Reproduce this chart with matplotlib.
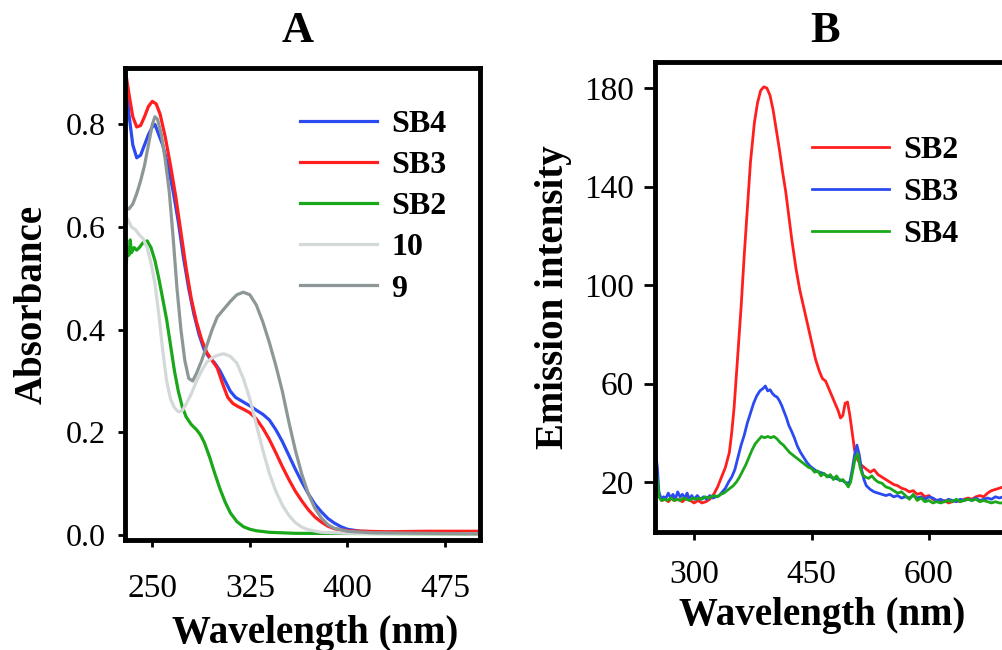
import numpy as np
import matplotlib
matplotlib.use('Agg')
from matplotlib import pyplot as plt

plt.rcParams['font.family'] = ['Liberation Serif', 'DejaVu Serif']

# panel A: absorbance spectra
wl_sb3 = [229, 232, 235, 238, 241, 244, 247, 250, 253, 256, 260, 264, 268, 272, 276, 280, 284, 288, 292,
          296, 300, 304, 308, 312, 316, 320, 325, 330, 335, 340, 345, 350, 355, 360, 365, 370, 375, 380,
          385, 390, 400, 430, 460, 502]
abs_sb3 = [0.91, 0.86, 0.815, 0.795, 0.798, 0.815, 0.835, 0.845, 0.84, 0.82, 0.775, 0.72, 0.66, 0.59, 0.52,
           0.46, 0.415, 0.38, 0.355, 0.34, 0.325, 0.295, 0.268, 0.256, 0.25, 0.245, 0.238, 0.226, 0.208,
           0.186, 0.16, 0.133, 0.108, 0.085, 0.066, 0.049, 0.035, 0.025, 0.017, 0.012, 0.008, 0.006, 0.007,
           0.007]

wl_sb4 = [229, 232, 235, 238, 241, 244, 247, 250, 252, 255, 258, 262, 266, 270, 274, 278, 282, 286, 290,
          294, 298, 302, 306, 310, 314, 318, 322, 326, 330, 335, 340, 345, 350, 355, 360, 365, 370, 375,
          380, 385, 390, 395, 400, 410, 430, 502]
abs_sb4 = [0.91, 0.82, 0.76, 0.735, 0.74, 0.76, 0.78, 0.795, 0.80, 0.78, 0.76, 0.72, 0.67, 0.61, 0.54,
           0.48, 0.43, 0.39, 0.36, 0.345, 0.335, 0.32, 0.30, 0.28, 0.268, 0.262, 0.256, 0.25, 0.243, 0.235,
           0.224, 0.205, 0.182, 0.155, 0.128, 0.103, 0.08, 0.06, 0.045, 0.032, 0.023, 0.016, 0.011, 0.007,
           0.005, 0.004]

wl_sb2 = [229, 230, 231, 232, 233, 234, 236, 238, 240, 243, 246, 249, 252, 255, 258, 261, 264, 267, 270,
          273, 276, 280, 284, 287, 290, 294, 298, 302, 306, 310, 315, 320, 325, 330, 340, 360, 502]
abs_sb2 = [0.55, 0.53, 0.56, 0.545, 0.575, 0.55, 0.56, 0.555, 0.56, 0.57, 0.573, 0.56, 0.535, 0.50, 0.46,
           0.42, 0.37, 0.32, 0.28, 0.25, 0.23, 0.215, 0.205, 0.195, 0.18, 0.152, 0.12, 0.09, 0.064, 0.043,
           0.026, 0.016, 0.011, 0.008, 0.005, 0.003, 0.002]

wl_10 = [228, 231, 234, 237, 240, 243, 246, 249, 252, 255, 258, 261, 264, 267, 270, 273, 276, 280, 284,
         288, 292, 296, 300, 305, 310, 315, 320, 325, 330, 335, 340, 345, 350, 355, 360, 365, 370, 380,
         400, 502]
abs_10 = [0.63, 0.615, 0.60, 0.595, 0.585, 0.577, 0.56, 0.53, 0.49, 0.43, 0.36, 0.30, 0.265, 0.248, 0.24,
          0.242, 0.255, 0.275, 0.30, 0.32, 0.337, 0.345, 0.35, 0.353, 0.348, 0.335, 0.305, 0.265, 0.215,
          0.165, 0.12, 0.085, 0.058, 0.038, 0.024, 0.015, 0.010, 0.005, 0.003, 0.002]

wl_9 = [229, 232, 235, 238, 241, 244, 247, 250, 252, 254, 257, 260, 263, 266, 269, 272, 275, 278, 281,
        284, 288, 292, 296, 300, 305, 310, 315, 320, 325, 330, 335, 340, 345, 350, 355, 360, 365, 370,
        375, 380, 385, 390, 400, 420, 502]
abs_9 = [0.64, 0.635, 0.645, 0.665, 0.69, 0.72, 0.76, 0.80, 0.815, 0.81, 0.78, 0.73, 0.67, 0.58, 0.48,
         0.40, 0.34, 0.305, 0.30, 0.315, 0.34, 0.37, 0.40, 0.425, 0.44, 0.455, 0.468, 0.473, 0.468, 0.448,
         0.415, 0.375, 0.33, 0.28, 0.22, 0.165, 0.118, 0.08, 0.052, 0.033, 0.02, 0.013, 0.007, 0.004, 0.002]

# panel B: emission spectra
wl_em_sb2 = [253, 256, 259, 263, 267, 271, 275, 280, 285, 290, 295, 300, 305, 310, 315, 320, 325, 330, 335,
             340, 345, 348, 351, 355, 360, 364, 368, 372, 377, 381, 385, 389, 393, 397, 401, 405, 409, 413,
             417, 421, 425, 430, 435, 440, 445, 450, 455, 460, 464, 468, 472, 476, 480, 484, 487, 490, 493,
             496, 499, 502, 505, 509, 513, 517, 521, 525, 530, 535, 540, 545, 550, 555, 560, 565, 570, 575,
             580, 585, 590, 595, 600, 605, 610, 615, 620, 625, 630, 635, 640, 645, 650, 655, 660, 665, 670,
             675, 680, 685, 690, 695, 700, 705]
em_sb2 = [18, 14, 12.5, 13, 12, 13.5, 12.5, 13, 12, 13.5, 12.5, 11.5, 12.5, 11.5, 12, 13, 15, 18, 22, 26,
          32, 40, 50, 68, 91, 112, 131, 150, 166, 174, 179, 180.5, 180, 177, 171, 163, 155, 146, 138, 128,
          118, 107, 98, 91, 84, 77, 70, 65, 62, 61, 58, 55, 52, 49, 46, 47, 52, 52.5, 47, 40, 33, 29, 27,
          26, 25, 24, 25, 23, 22, 21, 20, 19, 18.5, 17.5, 17, 16, 16.5, 15, 15.5, 14, 14.5, 13, 12.5, 12,
          12.5, 11.5, 12, 12.5, 12, 13, 13.5, 13, 14, 14.5, 14, 15.5, 16.5, 17, 17.5, 18, 19.5, 19]

wl_em_sb3 = [251, 253, 255, 258, 261, 264, 267, 270, 273, 276, 279, 282, 285, 288, 291, 294, 297, 300, 304,
             308, 312, 316, 320, 324, 328, 332, 336, 340, 344, 348, 352, 356, 360, 364, 368, 372, 376, 380,
             384, 388, 391, 394, 397, 400, 403, 406, 409, 412, 415, 418, 421, 424, 428, 432, 436, 440, 444,
             448, 452, 456, 460, 465, 470, 475, 480, 485, 490, 495, 499, 502, 505, 508, 511, 514, 517, 520,
             525, 530, 535, 540, 545, 550, 555, 560, 565, 570, 575, 580, 585, 590, 595, 600, 605, 610, 615,
             620, 625, 630, 635, 640, 645, 650, 655, 660, 665, 670, 675, 680, 685, 690, 695, 700, 705]
em_sb3 = [31, 26, 16, 13, 14, 13.5, 15.5, 13.5, 15, 13, 16, 14, 15, 13.5, 15.5, 13, 14.5, 13, 14.5, 13,
          14, 13, 14.5, 13.5, 14, 14.5, 16, 17.5, 20, 22, 25, 30, 35, 39, 44, 48, 52, 55, 57, 58, 59, 57,
          57.5, 56, 55, 54.5, 53, 51, 48.5, 46, 43, 41, 38, 34.5, 32, 30, 28, 26.5, 25.5, 24.5, 24, 23.5,
          22.5, 22, 21.5, 21, 20.5, 19.5, 20, 25, 31, 35, 31, 25, 21, 18.5, 17, 16, 15.5, 15, 14.5, 15, 14,
          14.5, 13.5, 14, 13.5, 14.5, 13.5, 14, 13, 14, 13.5, 12.5, 13, 12, 13, 12.5, 12, 13, 12.5, 13,
          12.5, 13.5, 12.5, 13, 13.5, 13, 14, 13.5, 14, 13.5, 14]

wl_em_sb4 = [251, 253, 255, 258, 262, 266, 270, 274, 278, 282, 286, 290, 294, 298, 302, 306, 310, 314, 318,
             322, 326, 330, 334, 338, 342, 346, 350, 354, 358, 362, 366, 370, 374, 378, 382, 386, 390, 394,
             398, 402, 406, 410, 414, 418, 422, 426, 430, 434, 438, 442, 446, 450, 454, 458, 462, 466, 470,
             474, 478, 482, 486, 490, 494, 497, 500, 503, 506, 509, 512, 515, 519, 523, 527, 531, 535, 540,
             545, 550, 555, 560, 565, 570, 575, 580, 585, 590, 595, 600, 605, 610, 615, 620, 625, 630, 635,
             640, 645, 650, 655, 660, 665, 670, 675, 680, 685, 690, 695, 700, 705]
em_sb4 = [25, 21, 14, 12.5, 13, 12.5, 13.5, 12.5, 13, 12.5, 13.5, 13, 12.5, 13.5, 13, 13.5, 13, 14, 13.5,
          14, 14.5, 14, 15, 15.5, 16.5, 17.5, 18.5, 20, 22, 24.5, 27, 30, 33, 35.5, 37, 38.5, 38, 38.5, 38,
          38.5, 37.5, 36, 35, 33.5, 32, 31, 30, 29, 28, 27, 26, 25.5, 24, 24.5, 22.5, 23.5, 22, 23, 21,
          22.5, 20.5, 21, 19.5, 18, 20, 25, 30, 31.5, 26, 23, 22, 21.5, 22.5, 21, 20, 19.5, 18, 17.5, 16.5,
          15.5, 16, 14.5, 13, 15, 12.5, 13.5, 12, 12.5, 11.5, 12, 11.5, 12, 12.5, 12, 13, 12, 12.5, 13,
          12.5, 13, 12, 12.5, 12, 11.5, 12, 11.5, 11.5, 11, 11]

c_red = '#ff1f1f'
c_blue = '#2b4bf0'
c_green = '#1aa81a'
c_light = '#d3d8d8'
c_dark = '#8e9797'

fig = plt.figure(figsize=(10.03, 6.5), dpi=100)
W, H = 1003.0, 650.0

axA = fig.add_axes([125 / W, 1 - 540 / H, 355 / W, 472 / H])
axA.plot(wl_sb4, abs_sb4, color=c_blue, lw=2.3, label='SB4')
axA.plot(wl_sb3, abs_sb3, color=c_red, lw=2.3, label='SB3')
axA.plot(wl_sb2, abs_sb2, color=c_green, lw=2.3, label='SB2')
axA.plot(wl_10, abs_10, color=c_light, lw=2.3, label='10')
axA.plot(wl_9, abs_9, color=c_dark, lw=2.3, label='9')
axA.set_xlim(229, 502)
axA.set_ylim(-0.01, 0.91)
axA.set_xticks([250, 325, 400, 475])
axA.set_yticks([0.0, 0.2, 0.4, 0.6, 0.8])
axA.set_yticklabels(['0.0', '0.2', '0.4', '0.6', '0.8'])
axA.set_xlabel('Wavelength (nm)', fontsize=28, fontweight='bold')
axA.xaxis.set_label_coords(0.535, -0.158)
axA.set_ylabel('Absorbance', fontsize=28, fontweight='bold', labelpad=11)
axA.legend(loc='upper left', bbox_to_anchor=(0.493, 0.912), frameon=False,
           prop={'weight': 'bold', 'size': 23}, handlelength=2.4, handletextpad=0.45,
           labelspacing=0.37, borderpad=0, borderaxespad=0)
axA.tick_params(axis='both', length=5, width=2, direction='out')
axA.tick_params(axis='y', labelsize=23, pad=9)
axA.tick_params(axis='x', labelsize=24, pad=19)

# right edge of panel B runs off the figure
axB = fig.add_axes([655 / W, 1 - 532 / H, 360 / W, 470 / H])
axB.plot(wl_em_sb2, em_sb2, color=c_red, lw=2.0, label='SB2')
axB.plot(wl_em_sb3, em_sb3, color=c_blue, lw=2.0, label='SB3')
axB.plot(wl_em_sb4, em_sb4, color=c_green, lw=2.0, label='SB4')
axB.set_xlim(250, 710)
axB.set_ylim(-0.3, 190.6)
axB.set_xticks([300, 450, 600])
axB.set_yticks([20, 60, 100, 140, 180])
axB.set_xlabel('Wavelength (nm)', fontsize=28, fontweight='bold')
axB.xaxis.set_label_coords(0.464, -0.139)
axB.set_ylabel('Emission intensity', fontsize=28, fontweight='bold', labelpad=9)
axB.legend(loc='upper left', bbox_to_anchor=(0.436, 0.843), frameon=False,
           prop={'weight': 'bold', 'size': 23}, handlelength=2.4, handletextpad=0.45,
           labelspacing=0.4, borderpad=0, borderaxespad=0)
axB.tick_params(axis='y', labelsize=24, length=8, width=2, direction='out', pad=7)
axB.tick_params(axis='x', labelsize=24, length=6, width=2, direction='out', pad=14)

for ax in (axA, axB):
    for sp in ax.spines.values():
        sp.set_linewidth(3.5)

fig.text(298 / W, 1 - 31 / H, 'A', fontsize=32, fontweight='bold', ha='center', va='center')
fig.text(825 / W, 1 - 31 / H, 'B', fontsize=32, fontweight='bold', ha='center', va='center')

fig.savefig('out.png', dpi=100)
